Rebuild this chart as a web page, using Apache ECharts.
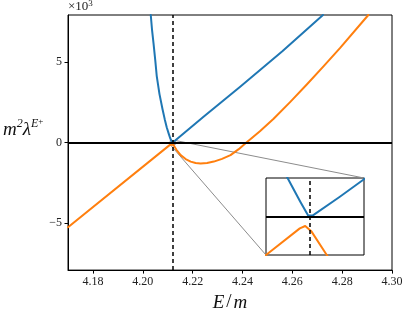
<!DOCTYPE html>
<html>
<head>
<meta charset="utf-8">
<script src="https://cdn.jsdelivr.net/npm/echarts@6/dist/echarts.min.js"></script>
<style>
html,body{margin:0;padding:0;background:#fff;}
#c{width:407px;height:317px;}
</style>
</head>
<body>
<div id="c"></div>
<script>
// ---- data (y in units of 10^3) ----
const xTicks = [4.18, 4.20, 4.22, 4.24, 4.26, 4.28, 4.30];
const yTicks = [-5, 0, 5];
const mainXRange = [4.17, 4.30];
const mainYRange = [-7.9, 7.9];
const insetXRange = [4.2110, 4.2130];
const insetYRange = [-0.13, 0.13];
const resonanceE = 4.2119;

const blueE = [4.2032, 4.2037, 4.2043, 4.2050, 4.2056, 4.2067, 4.2079, 4.2088, 4.2096, 4.2104, 4.2110, 4.21144, 4.2117, 4.21186, 4.21195, 4.2125, 4.2130, 4.2245, 4.2392, 4.2560, 4.2723];
const blueY = [7.9, 7.0, 6.16, 5.1, 4.12, 3.0, 2.08, 1.45, 0.95, 0.55, 0.27, 0.13, 0.05, 0.003, 0.003, 0.066, 0.126, 1.62, 3.47, 5.65, 7.9];

const orangeE = [4.1700, 4.2110, 4.21169, 4.21180, 4.21193, 4.21224, 4.2135, 4.2152, 4.2172, 4.2192, 4.2212, 4.2232, 4.2258, 4.2285, 4.2318, 4.2352, 4.2385, 4.2416, 4.2470, 4.2525, 4.2592, 4.2659, 4.2725, 4.2792, 4.2905];
const orangeY = [-5.25, -0.130, -0.040, -0.032, -0.051, -0.130, -0.45, -0.78, -1.02, -1.18, -1.27, -1.30, -1.27, -1.18, -1.01, -0.78, -0.41, 0, 0.70, 1.47, 2.52, 3.61, 4.72, 5.86, 7.9];

const zip = (a, b) => a.map((v, i) => [v, b[i]]);
const BLUE = '#1f77b4', ORANGE = '#ff7f0e';
const FONT = 'Liberation Serif';

const chart = echarts.init(document.getElementById('c'), null, {renderer: 'canvas'});

function refLines(width) {
  return {
    silent: true, symbol: 'none', animation: false, label: {show: false}, precision: 6,
    data: [
      {xAxis: resonanceE, lineStyle: {color: '#000', width: 1.5, type: [4, 3]}},
      {yAxis: 0, lineStyle: {color: '#000', width: width, type: 'solid'}}
    ]
  };
}

function curve(name, E, Y, color, gi, withRef) {
  const s = {
    name: name, type: 'line', xAxisIndex: gi, yAxisIndex: gi,
    data: zip(E, Y), showSymbol: false, symbol: 'none',
    smooth: false, clip: true,
    lineStyle: {color: color, width: 2, join: 'round', cap: 'round'}, z: 3
  };
  if (withRef) s.markLine = refLines(gi === 0 ? 2 : 1.8);
  return s;
}

const option = {
  animation: false,
  backgroundColor: '#fff',
  grid: [
    {left: 66, right: 15, top: 15, bottom: 44, show: true, borderColor: '#000', borderWidth: 1, backgroundColor: 'transparent'},
    {left: 266, top: 178, width: 98, height: 77, show: true, borderColor: '#000', borderWidth: 1, backgroundColor: '#fff'}
  ],
  xAxis: [
    {
      type: 'value', gridIndex: 0, min: mainXRange[0], max: mainXRange[1],
      splitLine: {show: false},
      axisLine: {show: true, onZero: false, lineStyle: {color: '#000', width: 1}},
      axisTick: {show: true, inside: false, length: 3.5, customValues: xTicks, lineStyle: {color: '#000', width: 1}},
      axisLabel: {customValues: xTicks, formatter: v => v.toFixed(2), color: '#222', fontFamily: FONT, fontSize: 12, margin: 6},
      name: '{i|E}{n|/}{i|m}', nameLocation: 'middle', nameGap: 18,
      nameTextStyle: {rich: {
        i: {fontFamily: FONT, fontStyle: 'italic', fontSize: 19, color: '#111'},
        n: {fontFamily: FONT, fontSize: 19, color: '#111', padding: [0, 2, 0, 2]}
      }}
    },
    {
      type: 'value', gridIndex: 1, min: insetXRange[0], max: insetXRange[1],
      splitLine: {show: false}, axisLine: {show: false}, axisTick: {show: false}, axisLabel: {show: false}
    }
  ],
  yAxis: [
    {
      type: 'value', gridIndex: 0, min: mainYRange[0], max: mainYRange[1],
      splitLine: {show: false},
      axisLine: {show: true, onZero: false, lineStyle: {color: '#000', width: 1}},
      axisTick: {show: true, inside: false, length: 3.5, customValues: yTicks, lineStyle: {color: '#000', width: 1}},
      axisLabel: {customValues: yTicks, formatter: v => (v < 0 ? '\u2212' + Math.abs(v) : String(v)), color: '#222', fontFamily: FONT, fontSize: 12, margin: 6},
      name: '{i|m}{s|2}{i|λ}{s|E}{p|+}', nameLocation: 'middle', nameRotate: 0, nameGap: 6,
      nameTextStyle: {
        align: 'right', padding: [0, 0, 28, 0],
        rich: {
          i: {fontFamily: FONT, fontStyle: 'italic', fontSize: 19, color: '#111', lineHeight: 22, verticalAlign: 'bottom'},
          s: {fontFamily: FONT, fontStyle: 'italic', fontSize: 12, color: '#111', lineHeight: 22, verticalAlign: 'top'},
          p: {fontFamily: FONT, fontSize: 9, color: '#111', lineHeight: 22, verticalAlign: 'top', padding: [0, 0, 4, 0]}
        }
      }
    },
    {
      type: 'value', gridIndex: 1, min: insetYRange[0], max: insetYRange[1],
      splitLine: {show: false}, axisLine: {show: false}, axisTick: {show: false}, axisLabel: {show: false}
    }
  ],
  series: [
    curve('blue', blueE, blueY, BLUE, 0, true),
    curve('orange', orangeE, orangeY, ORANGE, 0, false),
    curve('blueInset', blueE, blueY, BLUE, 1, true),
    curve('orangeInset', orangeE, orangeY, ORANGE, 1, false)
  ]
};
chart.setOption(option);

// connectors / marked region computed through the library's scales
const p = (gi, x, y) => chart.convertToPixel({gridIndex: gi}, [x, y]);
const rTL = p(0, insetXRange[0], insetYRange[1]);
const rBR = p(0, insetXRange[1], insetYRange[0]);
const rTR = p(0, insetXRange[1], insetYRange[1]);
const rBL = p(0, insetXRange[0], insetYRange[0]);
const iTR = p(1, insetXRange[1], insetYRange[1]);
const iBL = p(1, insetXRange[0], insetYRange[0]);
const corner = p(0, mainXRange[0], mainYRange[1]);
const GRAY = '#8c8c8c';
chart.setOption({
  graphic: [
    {type: 'rect', shape: {x: rTL[0], y: rTL[1], width: rBR[0] - rTL[0], height: rBR[1] - rTL[1]}, style: {fill: 'none', stroke: GRAY, lineWidth: 1}, z: 1, silent: true},
    {type: 'line', shape: {x1: rTR[0], y1: rTR[1], x2: iTR[0], y2: iTR[1]}, style: {stroke: GRAY, lineWidth: 1}, z: 1, silent: true},
    {type: 'line', shape: {x1: rBL[0], y1: rBL[1], x2: iBL[0], y2: iBL[1]}, style: {stroke: GRAY, lineWidth: 1}, z: 1, silent: true},
    {type: 'text', x: corner[0], y: corner[1] - 1, style: {
      text: '×10{s|3}', fontFamily: FONT, fontSize: 13, fill: '#222', align: 'left', verticalAlign: 'bottom',
      rich: {s: {fontFamily: FONT, fontSize: 9, fill: '#222', verticalAlign: 'top', lineHeight: 15}}
    }, silent: true}
  ]
});
</script>
</body>
</html>
